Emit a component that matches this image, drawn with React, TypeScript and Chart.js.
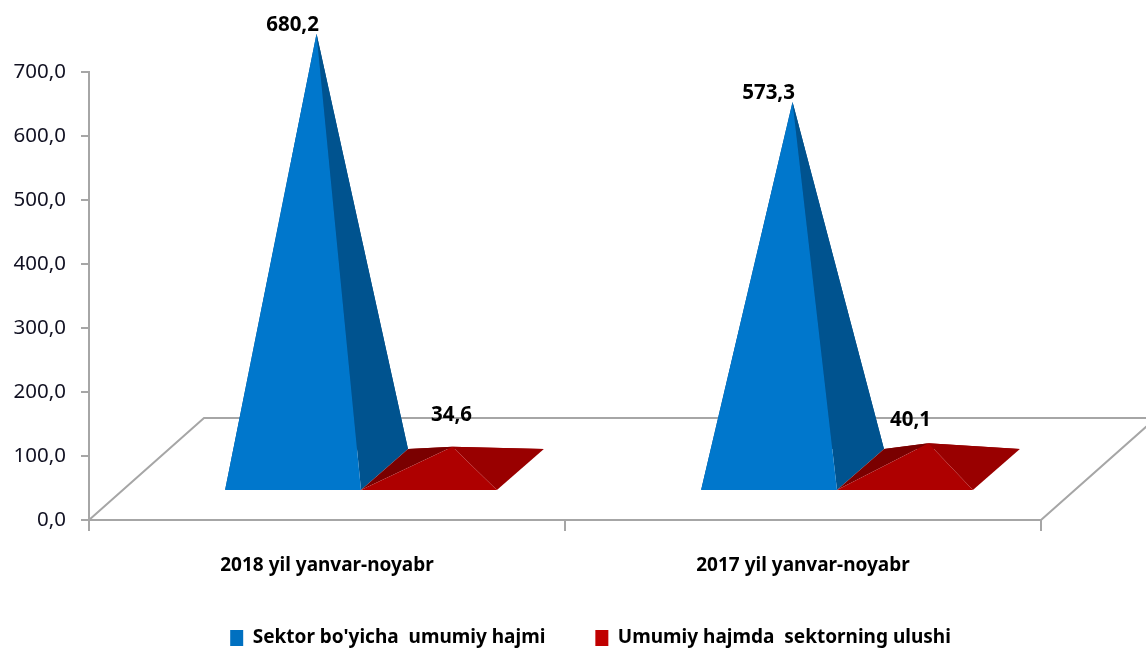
import React, { useEffect, useRef } from "react";
import { Chart, registerables } from "chart.js";

Chart.register(...registerables);

const categories = ["2018 yil yanvar-noyabr", "2017 yil yanvar-noyabr"];
const sectorVolume = [680.2, 573.3];
const sectorShare = [34.6, 40.1];
const seriesNames = ["Sektor bo'yicha  umumiy hajmi", "Umumiy hajmda  sektorning ulushi"];
const yTicksMax = 700;
const yTickStep = 100;

const FONT = "'Noto Sans', sans-serif";
const faces = [
  { front: "#0077cc", right: "#00538f", left: "#004a80", back: "#004a80" },
  { front: "#ae0000", right: "#990000", left: "#7a0000", back: "#8c0000" },
];
const labelShift = [
  [[-24, -9], [-24, -9]],
  [[-1, -32], [-18, -23]],
];

const fmt = (v: number) => v.toFixed(1).replace(".", ",");

const poly = (ctx: CanvasRenderingContext2D, pts: number[][], fill: string) => {
  ctx.beginPath();
  pts.forEach((p, i) => (i ? ctx.lineTo(p[0], p[1]) : ctx.moveTo(p[0], p[1])));
  ctx.closePath();
  ctx.fillStyle = fill;
  ctx.fill();
};

const pyramid3d = {
  id: "pyramid3d",
  afterLayout(chart: any) {
    const l = chart.legend;
    l.left += 70;
    l.right += 70;
    l.top = 638 - 9.5 - l.options.labels.padding;
  },
  beforeDatasetsDraw(chart: any) {
    const { ctx, chartArea: a } = chart;
    ctx.save();
    ctx.strokeStyle = "#a6a6a6";
    ctx.lineWidth = 2;
    ctx.beginPath();
    ctx.moveTo(a.left, a.bottom);
    ctx.lineTo(a.left + 115, a.bottom - 102);
    ctx.lineTo(a.right + 115, a.bottom - 102);
    ctx.lineTo(a.right, a.bottom);
    ctx.stroke();
    ctx.restore();
  },
  beforeDatasetDraw() {
    return false;
  },
  afterDatasetsDraw(chart: any) {
    const { ctx, scales } = chart;
    const y = scales.y;
    const zero = y.getPixelForValue(0);
    const frontY = zero - 30;
    const backY = zero - 71;
    chart.data.datasets.forEach((ds: any, d: number) => {
      const meta = chart.getDatasetMeta(d);
      meta.data.forEach((bar: any, i: number) => {
        const w = bar.width;
        const fl = bar.x - w / 2 + 34;
        const fr = fl + w;
        const bl = fl + 47;
        const br = fr + 47;
        const ax = (fl + br) / 2;
        const ay = y.getPixelForValue(ds.data[i]) - 51;
        const c = faces[d];
        poly(ctx, [[bl, backY], [br, backY], [ax, ay]], c.back);
        poly(ctx, [[fl, frontY], [bl, backY], [ax, ay]], c.left);
        poly(ctx, [[fr, frontY], [br, backY], [ax, ay]], c.right);
        poly(ctx, [[fl, frontY], [fr, frontY], [ax, ay]], c.front);
      });
    });
    ctx.save();
    ctx.font = `bold 20.5px ${FONT}`;
    ctx.fillStyle = "#000";
    ctx.textAlign = "center";
    ctx.textBaseline = "middle";
    chart.data.datasets.forEach((ds: any, d: number) => {
      const meta = chart.getDatasetMeta(d);
      meta.data.forEach((bar: any, i: number) => {
        const ax = bar.x + 34 + 23.5;
        const ay = y.getPixelForValue(ds.data[i]) - 51;
        ctx.fillText(fmt(ds.data[i]), ax + labelShift[d][i][0], ay + labelShift[d][i][1]);
      });
    });
    ctx.restore();
  },
};

export default function App() {
  const ref = useRef<HTMLCanvasElement>(null);
  useEffect(() => {
    const chart = new Chart(ref.current!, {
      type: "bar",
      data: {
        labels: categories,
        datasets: [
          { label: seriesNames[0], data: sectorVolume, backgroundColor: "#0070c0", borderWidth: 0 },
          { label: seriesNames[1], data: sectorShare, backgroundColor: "#c00000", borderWidth: 0 },
        ],
      },
      plugins: [pyramid3d],
      options: {
        animation: false,
        responsive: false,
        devicePixelRatio: 1,
        layout: { padding: { left: 0, right: 105, top: 72, bottom: 0 } },
        datasets: { bar: { categoryPercentage: 0.571, barPercentage: 1 } },
        plugins: {
          tooltip: { enabled: false },
          legend: {
            position: "bottom",
            maxHeight: 30,
            labels: {
              boxWidth: 13,
              boxHeight: 16,
              padding: 50,
              color: "#000",
              font: { family: FONT, size: 19, weight: "bold" },
            },
          },
        },
        scales: {
          x: {
            grid: { drawOnChartArea: false, tickLength: 11, color: "#a6a6a6", lineWidth: 2 },
            border: { color: "#a6a6a6", width: 2 },
            ticks: { color: "#000", padding: 23, maxRotation: 0, font: { family: FONT, size: 19, weight: "bold" } },
            afterFit: (s: any) => { s.height = 102; },
          },
          y: {
            min: 0,
            max: yTicksMax,
            grid: { drawOnChartArea: false, tickLength: 8, color: "#a6a6a6", lineWidth: 2 },
            border: { color: "#a6a6a6", width: 2 },
            ticks: {
              stepSize: yTickStep,
              padding: 15,
              color: "#111122",
              font: { family: FONT, size: 20.5 },
              callback: (v: any) => fmt(Number(v)),
            },
            afterFit: (s: any) => { s.width = 89; },
          },
        },
      } as any,
    });
    return () => chart.destroy();
  }, []);
  return (
    <div style={{ position: "fixed", left: 0, top: 0, width: 1146, height: 652, background: "#fff" }}>
      <canvas ref={ref} width={1146} height={652} style={{ display: "block" }} />
    </div>
  );
}
